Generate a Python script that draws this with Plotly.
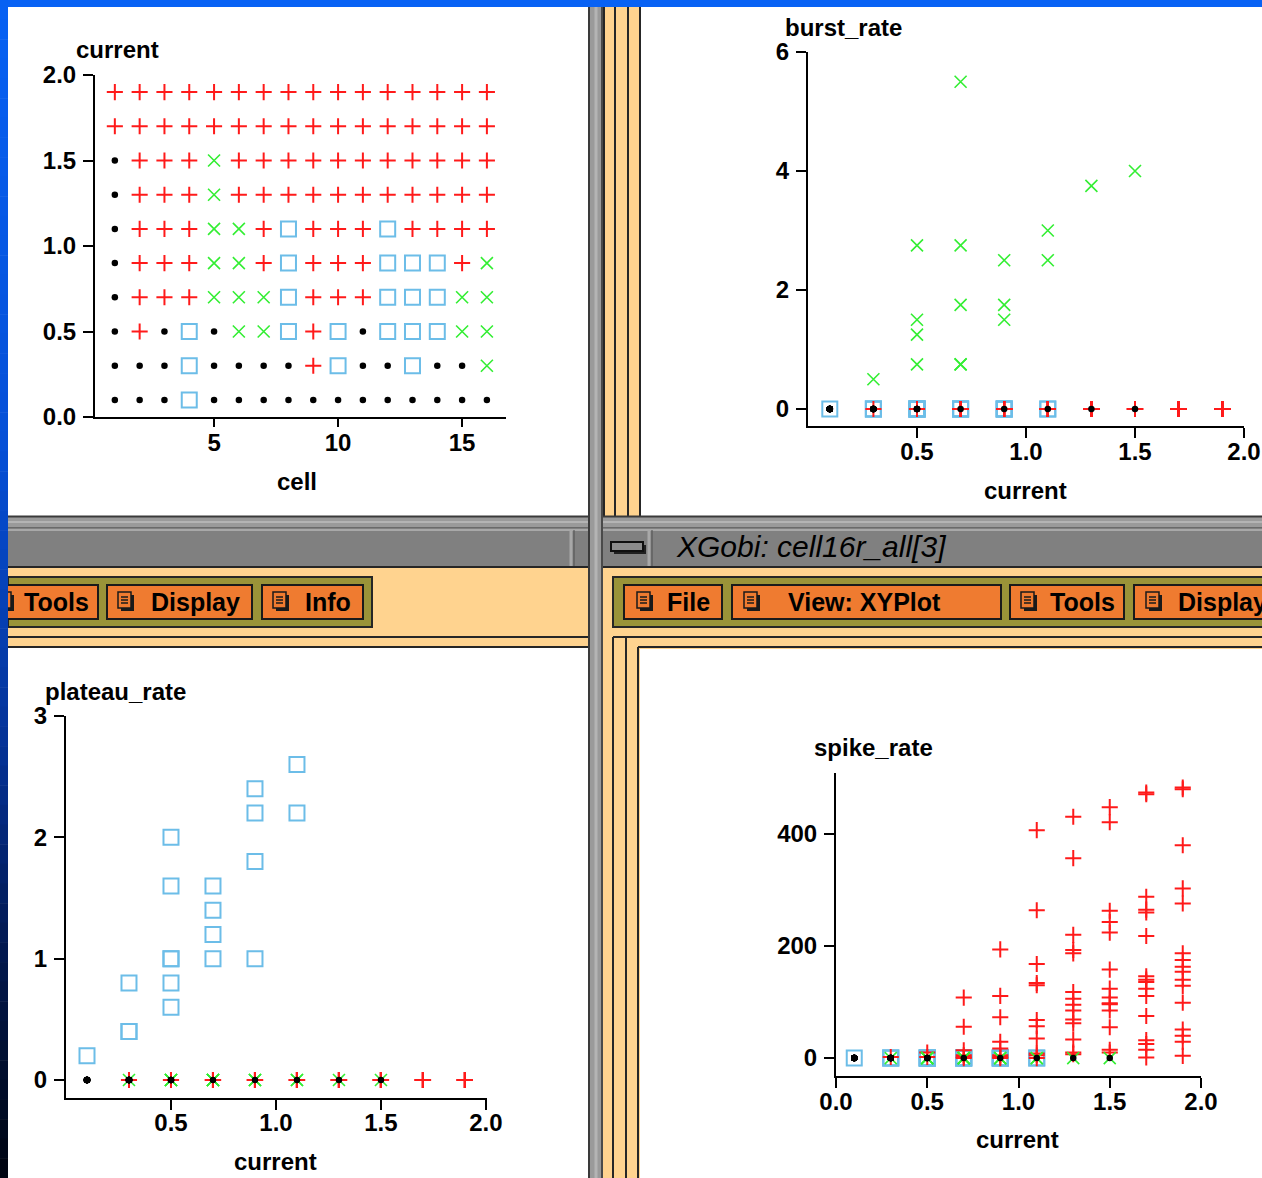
import plotly.graph_objects as go

W, H = 1262, 1178

# ---------------- data ----------------
currents = [0.1, 0.3, 0.5, 0.7, 0.9, 1.1, 1.3, 1.5, 1.7, 1.9]
cells = list(range(1, 17))
# response class of cells 1..16 at each current (rows follow `currents`)
# '.' silent, '+' spiking, 'x' bursting, 'o' plateau
response_rows = [
    "...o............",
    "...o....+o..o..x",
    ".+.o.xxo+o.oooxx",
    ".+++xxxo+++oooxx",
    ".+++xx+o+++ooo+x",
    ".+++xx+o+++o++++",
    ".+++x+++++++++++",
    ".+++x+++++++++++",
    "++++++++++++++++",
    "++++++++++++++++",
]
burst_rate_values = [
    [], [0.5], [2.75, 1.5, 1.25, 0.75], [5.5, 2.75, 1.75, 0.75, 0.75],
    [2.5, 1.75, 1.5], [3.0, 2.5], [3.75], [4.0], [], [],
]
plateau_rate_values = [
    [0.2], [0.8, 0.4, 0.4], [2.0, 1.6, 1.0, 1.0, 0.8, 0.6], [1.6, 1.4, 1.2, 1.0],
    [2.4, 2.2, 1.8, 1.0], [2.6, 2.2], [], [], [], [],
]
spike_rate_values = [
    [], [2], [10, 2], [108, 56, 14, 5, 2, 0],
    [194, 111, 73, 29, 17, 5, 2, 0],
    [407, 264, 168, 134, 130, 68, 57, 35, 8, 5, 0],
    [431, 357, 220, 193, 187, 118, 106, 95, 85, 69, 62, 33, 10, 7],
    [448, 421, 263, 243, 224, 158, 124, 108, 98, 96, 85, 55, 15, 10],
    [474, 471, 288, 265, 260, 218, 146, 140, 136, 124, 111, 75, 32, 25, 15, 1],
    [483, 480, 380, 303, 276, 187, 175, 163, 154, 140, 129, 99, 51, 40, 29, 4],
]
cell_ticks = [5, 10, 15]
current_ticks_p1 = [0.0, 0.5, 1.0, 1.5, 2.0]
current_ticks = [0.5, 1.0, 1.5, 2.0]
current_ticks_p4 = [0.0, 0.5, 1.0, 1.5, 2.0]
burst_ticks = [0, 2, 4, 6]
plateau_ticks = [0, 1, 2, 3]
spike_ticks = [0, 200, 400]
window_title = "XGobi: cell16r_all[3]"

# ---------------- styles ----------------
RED, GREEN, BLUE = "#ff1a1a", "#33ee33", "#6cbde8"
BEIGE, OLIVE, ORANGE = "#ffd38f", "#9a9338", "#ef7b30"
GRAY, DARK = "#808080", "#262626"
FONT = "Liberation Sans, Arial, sans-serif"

style = {
    'o': dict(symbol='square-open', size=15, color=BLUE, line=dict(width=2, color=BLUE)),
    '+': dict(symbol='cross-thin-open', size=11.5, color=RED, line=dict(width=2, color=RED)),
    'x': dict(symbol='x-thin-open', size=12, color=GREEN, line=dict(width=1.6, color=GREEN)),
    '.': dict(symbol='circle', size=6.5, color='black', line=dict(width=0)),
}
order = ['o', '+', 'x', '.']

fig = go.Figure()

# panel 1: current vs cell
for c in order:
    xs, ys = [], []
    for i, cur in enumerate(currents):
        for j, cc in enumerate(response_rows[i]):
            if cc == c:
                xs.append(cells[j]); ys.append(cur)
    fig.add_trace(go.Scatter(x=xs, y=ys, mode='markers', marker=style[c],
                             xaxis='x', yaxis='y', cliponaxis=False, showlegend=False))


def rate_points(cls, values):
    pts = {c: ([], []) for c in order}
    for i, cur in enumerate(currents):
        k = 0
        for cc in response_rows[i]:
            if cc == cls:
                y = values[i][k]; k += 1
            else:
                y = 0
            pts[cc][0].append(cur); pts[cc][1].append(y)
    return pts


for ax, cls, vals in [('2', 'x', burst_rate_values), ('3', 'o', plateau_rate_values),
                      ('4', '+', spike_rate_values)]:
    pts = rate_points(cls, vals)
    for c in order:
        fig.add_trace(go.Scatter(x=pts[c][0], y=pts[c][1], mode='markers', marker=style[c],
                                 xaxis='x' + ax, yaxis='y' + ax, cliponaxis=False,
                                 showlegend=False))

# ---------------- axes ----------------
tickfont = dict(family=FONT, size=24, color='black', weight='bold')


def axis(dom, rng, tv, tt, anchor, ticklen, standoff):
    return dict(domain=dom, range=rng, tickvals=tv, ticktext=tt, anchor=anchor,
                showline=True, linecolor='black', linewidth=2, ticks='outside',
                ticklen=ticklen, tickwidth=2, tickcolor='black', showgrid=False,
                zeroline=False, tickfont=tickfont, fixedrange=True,
                ticklabelstandoff=standoff, automargin=False)


def fx(a, b): return [a / W, b / W]
def fy(a, b): return [1 - b / H, 1 - a / H]


fmt1 = lambda v: f"{v:.1f}"
fig.update_layout(
    xaxis=axis(fx(95, 506), [0.2, 16.77], cell_ticks, [str(v) for v in cell_ticks], 'y', 8, -5),
    yaxis=axis(fy(75, 417), [0, 2], current_ticks_p1, [fmt1(v) for v in current_ticks_p1], 'x', 10, 2),
    xaxis2=axis(fx(808, 1244), [0, 2], current_ticks, [fmt1(v) for v in current_ticks], 'y2', 10, -7),
    yaxis2=axis(fy(52, 426), [-0.286, 6], burst_ticks, [str(v) for v in burst_ticks], 'x2', 10, 2),
    xaxis3=axis(fx(66, 487), [0, 2.005], current_ticks, [fmt1(v) for v in current_ticks], 'y3', 10, -8),
    yaxis3=axis(fy(716, 1098), [-0.148, 3], plateau_ticks, [str(v) for v in plateau_ticks], 'x3', 10, 2),
    xaxis4=axis(fx(836, 1201), [0, 2], current_ticks_p4, [fmt1(v) for v in current_ticks_p4], 'y4', 10, -7),
    yaxis4=axis(fy(773, 1076), [-32, 509], spike_ticks, [str(v) for v in spike_ticks], 'x4', 10, 2),
)

# ---------------- window chrome ----------------
shapes = []


def px(x): return x / W
def py(y): return 1 - y / H


def rect(x0, y0, x1, y1, fill, line=None, lw=0):
    shapes.append(dict(type='rect', xref='paper', yref='paper', x0=px(x0), x1=px(x1),
                       y0=py(y1), y1=py(y0), fillcolor=fill,
                       line=dict(color=line or fill, width=lw), layer='below'))


def hline(x0, x1, y, color, lw):
    shapes.append(dict(type='line', xref='paper', yref='paper', x0=px(x0), x1=px(x1),
                       y0=py(y), y1=py(y), line=dict(color=color, width=lw), layer='below'))


def vline(x, y0, y1, color, lw):
    shapes.append(dict(type='line', xref='paper', yref='paper', x0=px(x), x1=px(x),
                       y0=py(y0), y1=py(y1), line=dict(color=color, width=lw), layer='below'))


# top-right frame strip
rect(603, 7, 640, 516, BEIGE)
for x in (604, 615, 628, 640):
    vline(x, 7, 516, DARK, 2)

# horizontal gray border
rect(8, 516, 1262, 528, "#9a9a9a")
hline(8, 1262, 516.5, "#3a3a3a", 2)
hline(8, 1262, 522, "#b4b4b4", 2)
hline(8, 1262, 528, "#5a5a5a", 1.5)

# left window title bar + toolbar
rect(8, 528, 588, 567, GRAY)
hline(8, 588, 530, "#a8a8a8", 2)
vline(571, 530, 567, "#a8a8a8", 3)
vline(574, 530, 567, "#505050", 1)
hline(8, 588, 567, DARK, 2)
rect(8, 568, 588, 648, BEIGE)
hline(8, 588, 637, DARK, 2)
hline(8, 588, 647, DARK, 2)
rect(8, 577, 372, 627, OLIVE, DARK, 2)

# right window title bar + toolbar
rect(603, 528, 1262, 567, GRAY)
hline(603, 1262, 530, "#a8a8a8", 2)
vline(649, 530, 567, "#a8a8a8", 3)
vline(652, 530, 567, "#505050", 1)
hline(603, 1262, 567, DARK, 2)
rect(614, 545, 646, 554, "#202020")
rect(611, 542, 643, 551, "#8c8c8c", "#101010", 2)
rect(603, 568, 1262, 1178, BEIGE)
rect(613, 577, 1270, 627, OLIVE, DARK, 2)
hline(613, 1262, 637, DARK, 2)
vline(613, 637, 1178, DARK, 2)
vline(626, 637, 1178, DARK, 2)
vline(638, 647, 1178, DARK, 2)
hline(638, 1262, 647, DARK, 2)
rect(640, 649, 1262, 1178, "white")

# vertical gray separator
rect(588, 7, 603, 1178, "#9a9a9a")
vline(589, 7, 1178, "#3a3a3a", 2)
vline(596, 7, 1178, "#b4b4b4", 3)
vline(602, 7, 1178, "#4a4a4a", 2)


def icon(x, y):
    rect(x + 3, y + 3, x + 16, y + 19, "#1a1a1a")
    rect(x, y, x + 13, y + 16, ORANGE, "#1a1a1a", 1.5)
    for dy in (5, 8, 11):
        hline(x + 3, x + 10, y + dy, "#1a1a1a", 1.5)


buttons = [  # x0, x1, icon x
    (0, 98, -2), (107, 252, 118), (262, 363, 273),
    (624, 722, 637), (732, 1001, 744), (1010, 1124, 1021), (1134, 1275, 1146),
]
for x0, x1, ix in buttons:
    rect(x0, 585, x1, 619, ORANGE, "#1a1a1a", 2)
    icon(ix, 592)

# blue desktop background edges (drawn last so it overlaps)
rect(0, 0, 1262, 7, "#0862f4")
stops = [(0, (8, 98, 244)), (450, (6, 80, 215)), (750, (5, 50, 150)),
         (950, (3, 25, 80)), (1178, (0, 5, 16))]
nb = 60
for k in range(nb):
    y0 = k * H / nb
    y1 = (k + 1) * H / nb + 0.5
    ym = (y0 + y1) / 2
    for (a, ca), (b, cb) in zip(stops[:-1], stops[1:]):
        if a <= ym <= b:
            t = (ym - a) / (b - a)
            col = tuple(int(ca[i] + (cb[i] - ca[i]) * t) for i in range(3))
            break
    rect(0, y0, 8, y1, "rgb(%d,%d,%d)" % col)

# ---------------- text ----------------
ann = []


def text(s, x, y, size=24, anchor='center', weight='bold', style_='normal'):
    ann.append(dict(text=s, xref='paper', yref='paper', x=px(x), y=py(y), showarrow=False,
                    xanchor=anchor, yanchor='middle',
                    font=dict(family=FONT, size=size, color='black', weight=weight,
                              style=style_)))


text("current", 117, 50)
text("cell", 297, 482)
text("burst_rate", 843, 27)
text("current", 1025, 490)
text("plateau_rate", 115, 691)
text("current", 275, 1161)
text("spike_rate", 873, 747)
text("current", 1017, 1139)
text(window_title, 674, 546, size=30, anchor='left', weight='normal', style_='italic')
for s, x in [("Tools", 56), ("Display", 195), ("Info", 328), ("File", 688),
             ("View: XYPlot", 864), ("Tools", 1082)]:
    text(s, x, 602, size=25)
text("Display", 1176, 602, size=25, anchor='left')

fig.update_layout(width=W, height=H, margin=dict(l=0, r=0, t=0, b=0, autoexpand=False),
                  paper_bgcolor='white', plot_bgcolor='rgba(0,0,0,0)',
                  shapes=shapes, annotations=ann, showlegend=False)

fig.write_html("out.html", config={'displayModeBar': False},
               post_script="document.body.style.margin='0';"
                           "document.body.style.padding='0';"
                           "document.body.style.overflow='hidden';")
